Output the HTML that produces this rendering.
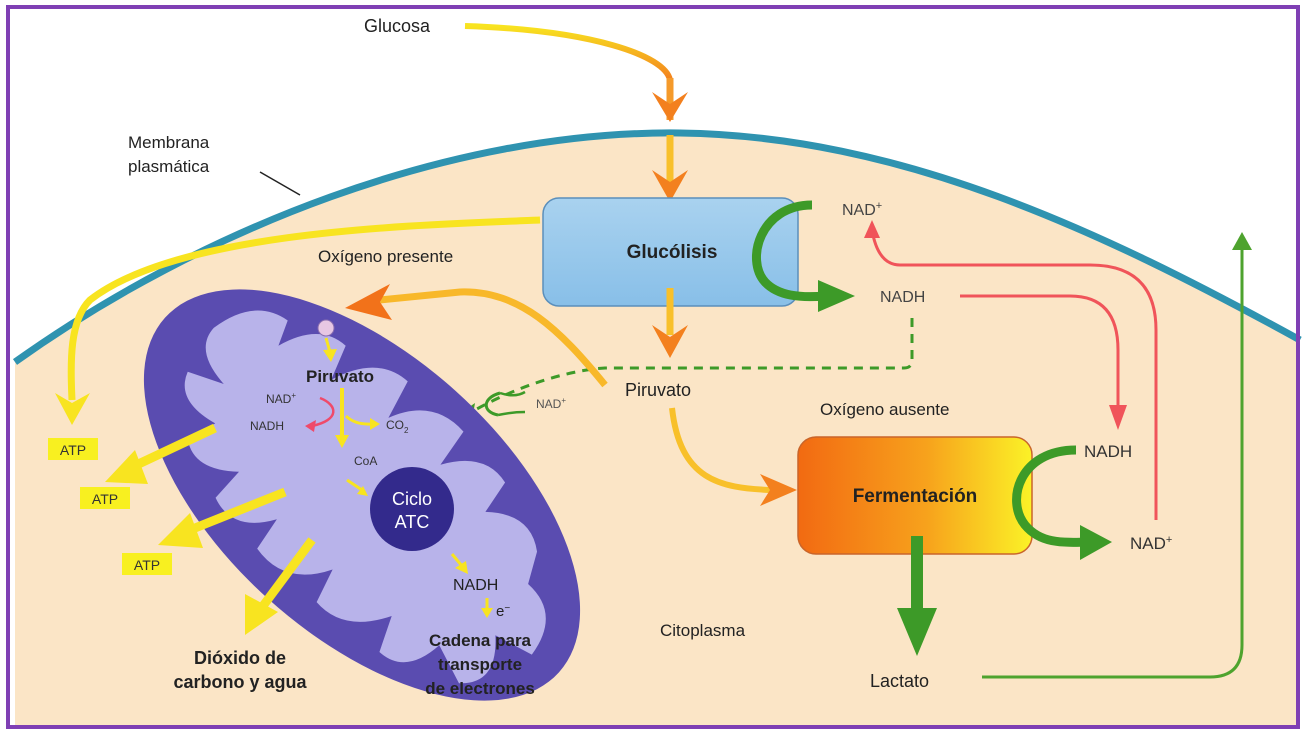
<!DOCTYPE html>
<html><head><meta charset="utf-8"><style>
html,body{margin:0;padding:0;background:#fff;overflow:hidden;width:1307px;height:738px}
svg{display:block}
text{font-family:"Liberation Sans",Arial,sans-serif}
</style></head><body>
<svg width="1307" height="738" viewBox="0 0 1307 738" xmlns="http://www.w3.org/2000/svg">
<defs>
<linearGradient id="fer" x1="0" x2="1" y1="0" y2="0"><stop offset="0" stop-color="#f26a12"/><stop offset="0.55" stop-color="#f7a21c"/><stop offset="1" stop-color="#fbf227"/></linearGradient>
<linearGradient id="glu" x1="0" x2="0" y1="0" y2="1"><stop offset="0" stop-color="#a9d2ef"/><stop offset="1" stop-color="#88bfe8"/></linearGradient>
<linearGradient id="yo" x1="0" x2="0" y1="0" y2="1"><stop offset="0" stop-color="#f8e420"/><stop offset="1" stop-color="#f3801e"/></linearGradient>
</defs>
<rect width="1307" height="738" fill="#fff"/>
<path d="M15,362 C200,230 450,130 680,133 C900,136 1100,230 1300,340 L1300,728 L15,728 Z" fill="#fbe5c6"/>
<path d="M15,362 C200,230 450,130 680,133 C900,136 1100,230 1300,340" fill="none" stroke="#2f93b0" stroke-width="7"/>
<text x="128" y="148" font-size="17" fill="#222">Membrana</text>
<text x="128" y="172" font-size="17" fill="#222">plasmática</text>
<line x1="260" y1="172" x2="300" y2="195" stroke="#222" stroke-width="1.5"/>
<text x="364" y="32" font-size="18" fill="#222">Glucosa</text>
<path d="M465,26 C590,30 665,55 670,80" fill="none" stroke="url(#yo)" stroke-width="6"/>
<path d="M670,78 L670,120" stroke="#f59a2a" stroke-width="7"/>
<polygon points="652,92 670,122 688,92 670,104" fill="#f3801e"/>
<path d="M670,135 L670,190" stroke="#f8c02a" stroke-width="7"/>
<polygon points="652,170 670,202 688,170 670,182" fill="#f3801e"/>
<rect x="543" y="198" width="255" height="108" rx="16" fill="url(#glu)" stroke="#5b8fbb" stroke-width="1.5"/>
<text x="672" y="258" font-size="19" font-weight="bold" fill="#222" text-anchor="middle">Glucólisis</text>
<path d="M812,205 C760,205 745,260 765,282 C778,296 800,298 825,296" fill="none" stroke="#3d9a28" stroke-width="9"/>
<polygon points="818,280 855,296 818,312" fill="#3d9a28"/>
<text x="842" y="215" font-size="16" fill="#444">NAD<tspan dy="-6" font-size="11">+</tspan></text>
<text x="880" y="302" font-size="16" fill="#444">NADH</text>
<path d="M1156,520 L1156,330 Q1156,265 1090,265 L900,265 Q878,265 872,230" fill="none" stroke="#f0545a" stroke-width="3"/>
<polygon points="864,238 872,220 880,238" fill="#f0545a"/>
<path d="M960,296 L1070,296 Q1118,296 1118,350 L1118,410" fill="none" stroke="#f0545a" stroke-width="3"/>
<polygon points="1109,405 1118,430 1127,405" fill="#f0545a"/>
<path d="M912,318 L912,360 Q912,368 904,368 L605,368 C570,370 520,385 475,410" fill="none" stroke="#3d9a28" stroke-width="3" stroke-dasharray="9,7"/>
<polygon points="455,417 475,403 472,420" fill="#3d9a28"/>
<path d="M500,393 C482,398 482,412 498,415" fill="none" stroke="#3d9a28" stroke-width="3"/>
<path d="M500,393 Q515,398 525,392 M498,415 Q512,412 525,412" fill="none" stroke="#3d9a28" stroke-width="2.5"/>
<text x="536" y="408" font-size="12" fill="#555">NAD<tspan dy="-5" font-size="8">+</tspan></text>
<text x="318" y="262" font-size="17" fill="#222">Oxígeno presente</text>
<path d="M540,220 C420,225 180,230 90,300 C70,320 70,360 72,400" fill="none" stroke="#f8e420" stroke-width="7"/>
<polygon points="55,393 72,425 90,393 72,403" fill="#f8e420"/>
<g transform="rotate(42 362 495)">
<ellipse cx="362" cy="495" rx="265" ry="140" fill="#5a4cb0"/>
<path d="M140,470 Q150,420 190,415 L200,440 Q215,395 250,395 L262,430 Q280,380 320,380 L330,420 Q350,375 395,380 L400,420 Q425,380 460,390 L465,425 Q500,395 530,420 L545,450 Q590,450 595,500 L555,510 Q590,545 560,570 L520,555 Q515,600 480,600 L465,565 Q440,610 400,605 L390,570 Q365,615 320,605 L315,570 Q290,610 255,595 L255,560 Q220,590 195,570 L205,540 Q160,550 150,520 L185,505 Q140,500 140,470 Z" fill="#b8b3ea"/>
</g>
<circle cx="326" cy="328" r="8" fill="#e7c7e3" stroke="#8a6fb0"/>
<circle cx="412" cy="509" r="42" fill="#332a8c"/>
<text x="412" y="505" font-size="18" fill="#fff" text-anchor="middle">Ciclo</text>
<text x="412" y="528" font-size="18" fill="#fff" text-anchor="middle">ATC</text>
<text x="340" y="382" font-size="17" font-weight="bold" fill="#222" text-anchor="middle">Piruvato</text>
<text x="266" y="403" font-size="12" fill="#333">NAD<tspan dy="-5" font-size="8">+</tspan></text>
<text x="250" y="430" font-size="12" fill="#333">NADH</text>
<path d="M320,398 C338,405 340,420 312,426" fill="none" stroke="#ef4a6a" stroke-width="2.5"/>
<polygon points="305,426 316,420 314,432" fill="#ef4a6a"/>
<path d="M342,388 L342,438" stroke="#f8e420" stroke-width="4"/>
<polygon points="335,435 342,448 349,435" fill="#f8e420"/>
<path d="M346,416 Q355,425 372,424" fill="none" stroke="#f8e420" stroke-width="3"/>
<polygon points="370,418 380,424 370,430" fill="#f8e420"/>
<text x="386" y="429" font-size="12" fill="#333">CO<tspan dy="4" font-size="8">2</tspan></text>
<text x="354" y="465" font-size="12" fill="#333">CoA</text>
<path d="M347,480 L362,490" stroke="#f8e420" stroke-width="3"/><polygon points="357,494 368,496 363,486" fill="#f8e420"/>
<path d="M326,338 L330,352" stroke="#f8e420" stroke-width="3"/><polygon points="323,350 331,362 337,349" fill="#f8e420"/>
<path d="M452,554 L462,566" stroke="#f8e420" stroke-width="3"/><polygon points="455,568 468,574 466,561" fill="#f8e420"/>
<text x="453" y="590" font-size="16" fill="#222">NADH</text>
<path d="M487,598 L487,610" stroke="#f8e420" stroke-width="3"/><polygon points="481,608 487,618 493,608" fill="#f8e420"/>
<text x="496" y="616" font-size="15" fill="#222">e<tspan dy="-5" font-size="10">−</tspan></text>
<text x="480" y="646" font-size="17" font-weight="bold" fill="#222" text-anchor="middle">Cadena para</text>
<text x="480" y="670" font-size="17" font-weight="bold" fill="#222" text-anchor="middle">transporte</text>
<text x="480" y="694" font-size="17" font-weight="bold" fill="#222" text-anchor="middle">de electrones</text>
<path d="M605,385 C560,330 520,290 460,292 L380,300" fill="none" stroke="#f8b82a" stroke-width="7"/>
<polygon points="390,284 345,308 392,320 380,302" fill="#f2721a"/>
<g fill="#f8e420" stroke="#f8e420">
<path d="M215,428 L130,468" stroke-width="9"/><polygon points="135,450 105,482 148,484" stroke="none"/>
<path d="M285,492 L185,532" stroke-width="9"/><polygon points="190,513 158,545 203,548" stroke="none"/>
<path d="M312,540 L260,610" stroke-width="9"/><polygon points="245,594 245,635 278,612" stroke="none"/>
</g>
<rect x="48" y="438" width="50" height="22" fill="#f8f020"/><text x="73" y="455" font-size="14" fill="#333" text-anchor="middle">ATP</text>
<rect x="80" y="487" width="50" height="22" fill="#f8f020"/><text x="105" y="504" font-size="14" fill="#333" text-anchor="middle">ATP</text>
<rect x="122" y="553" width="50" height="22" fill="#f8f020"/><text x="147" y="570" font-size="14" fill="#333" text-anchor="middle">ATP</text>
<text x="240" y="664" font-size="18" font-weight="bold" fill="#222" text-anchor="middle">Dióxido de</text>
<text x="240" y="688" font-size="18" font-weight="bold" fill="#222" text-anchor="middle">carbono y agua</text>
<path d="M670,288 L670,335" stroke="#f8c02a" stroke-width="7"/>
<polygon points="652,325 670,358 688,325 670,337" fill="#f3801e"/>
<text x="625" y="396" font-size="18" fill="#222">Piruvato</text>
<path d="M672,408 C680,480 720,488 770,490" fill="none" stroke="#f8c02a" stroke-width="6"/>
<polygon points="760,474 797,490 760,506 770,490" fill="#f3801e"/>
<text x="820" y="415" font-size="17" fill="#222">Oxígeno ausente</text>
<rect x="798" y="437" width="234" height="117" rx="18" fill="url(#fer)" stroke="#c9652a" stroke-width="1.5"/>
<text x="915" y="502" font-size="19" font-weight="bold" fill="#222" text-anchor="middle">Fermentación</text>
<path d="M1076,450 C1020,450 1005,500 1025,525 C1040,543 1060,543 1090,542" fill="none" stroke="#3d9a28" stroke-width="9"/>
<polygon points="1080,525 1112,542 1080,560" fill="#3d9a28"/>
<text x="1084" y="457" font-size="17" fill="#333">NADH</text>
<text x="1130" y="549" font-size="17" fill="#333">NAD<tspan dy="-6" font-size="11">+</tspan></text>
<path d="M917,536 L917,610" stroke="#3d9a28" stroke-width="12"/>
<polygon points="897,608 917,656 937,608" fill="#3d9a28"/>
<text x="870" y="687" font-size="18" fill="#222">Lactato</text>
<path d="M982,677 L1210,677 Q1242,677 1242,645 L1242,245" fill="none" stroke="#4ea32e" stroke-width="3"/>
<polygon points="1232,250 1242,232 1252,250" fill="#4ea32e"/>
<text x="660" y="636" font-size="17" fill="#222">Citoplasma</text>
<rect x="8" y="7" width="1290" height="720" fill="none" stroke="#7f3fb4" stroke-width="4"/>
</svg>
</body></html>
